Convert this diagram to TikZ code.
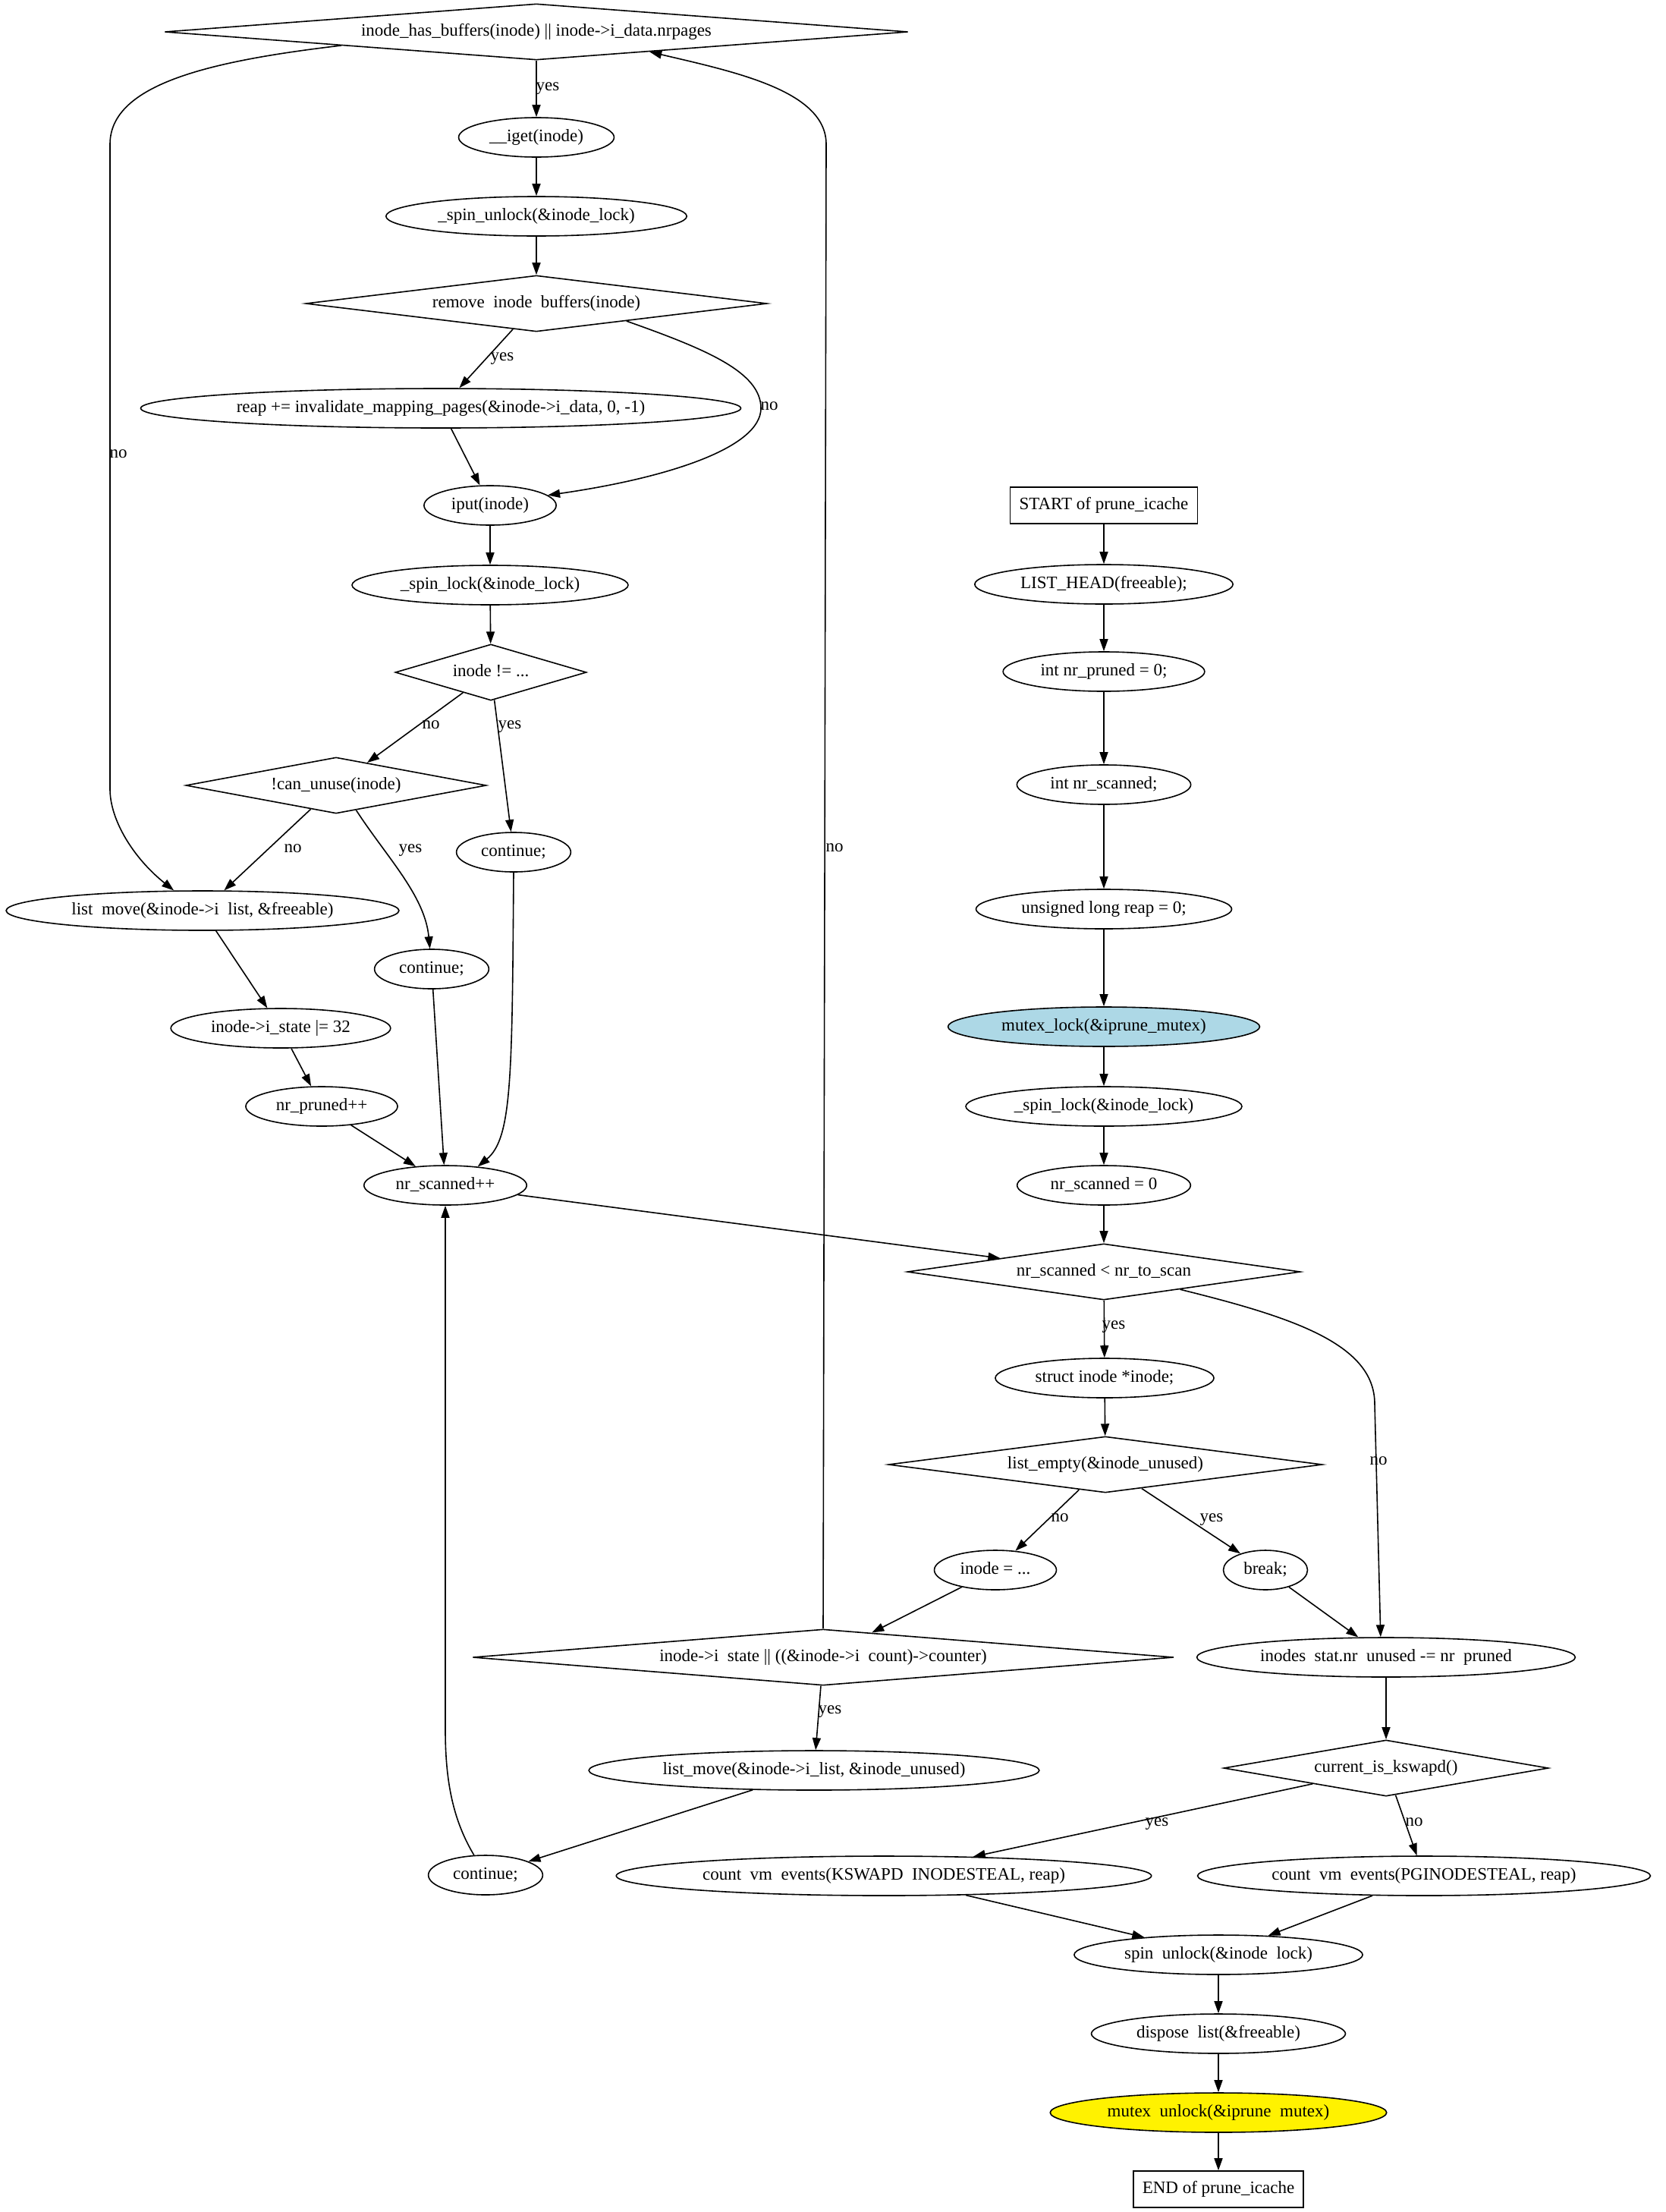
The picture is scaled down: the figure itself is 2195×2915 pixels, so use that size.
\documentclass[tikz,border=0pt]{standalone}
\usepackage{fontspec}
\setmainfont{Liberation Serif}
\usetikzlibrary{shapes.geometric,arrows.meta}
\newcommand{\hidus}{\phantom{\_}}
\definecolor{lightblue}{HTML}{ADD8E6}

\begin{document}
\begin{tikzpicture}[x=1pt, y=-1pt, line width=1.6pt, >={Triangle[length=16pt,width=11pt]},
  every node/.style={font=\fontsize{23}{27}\selectfont, text height=16pt, text depth=5pt},
  proc/.style={ellipse, draw, inner xsep=10.5pt, inner ysep=0pt, minimum height=52pt},
  decision/.style={diamond, draw, inner sep=0pt, minimum height=74pt},
  startend/.style={rectangle, draw, inner xsep=12pt, inner ysep=0pt, minimum height=48pt},
  lbl/.style={inner sep=0pt}]
\useasboundingbox (0,0) rectangle (2195,2915);
\node[startend] (N0) at (1455,666) {START of prune\_icache};
\node[proc] (N1) at (1455,770) {LIST\_HEAD(freeable);};
\node[proc] (N2) at (1455,885) {int nr\_pruned = 0;};
\node[proc] (N3) at (1455,1034) {int nr\_scanned;};
\node[proc] (N4) at (1455,1198) {unsigned long reap = 0;};
\node[proc, fill=lightblue] (N5) at (1455,1353) {mutex\_lock(\&iprune\_mutex)};
\node[proc] (N6) at (1455,1458) {\_spin\_lock(\&inode\_lock)};
\node[proc] (N7) at (1455,1562) {nr\_scanned = 0};
\node[decision, minimum width=518pt, aspect=7.0] (N8) at (1455,1676) {nr\_scanned < nr\_to\_scan};
\node[proc] (N9) at (1456,1816) {struct inode *inode;};
\node[decision, minimum width=572pt, aspect=7.73] (N10) at (1457,1930) {list\_empty(\&inode\_unused)};
\node[proc] (N11) at (1312,2069) {inode = ...};
\node[proc] (N12) at (1668,2069) {break;};
\node[decision, minimum width=924pt, aspect=12.49] (N13) at (1085,2184) {inode->i\hidus state || ((\&inode->i\hidus count)->counter)};
\node[decision, minimum width=980pt, aspect=13.24] (N14) at (707,42) {inode\_has\_buffers(inode) || inode->i\_data.nrpages};
\node[proc] (N15) at (707,181) {\_\_iget(inode)};
\node[proc] (N16) at (707,285) {\_spin\_unlock(\&inode\_lock)};
\node[decision, minimum width=608pt, aspect=8.22] (N17) at (707,400) {remove\hidus inode\hidus buffers(inode)};
\node[proc] (N18) at (581,538) {reap += invalidate\_mapping\_pages(\&inode->i\_data, 0, -1)};
\node[proc] (N19) at (646,666) {iput(inode)};
\node[proc] (N20) at (646,771) {\_spin\_lock(\&inode\_lock)};
\node[decision, minimum width=252pt, aspect=3.41] (N21) at (647,886) {inode != ...};
\node[decision, minimum width=396pt, aspect=5.35] (N22) at (443,1035) {!can\_unuse(inode)};
\node[proc] (N23) at (677,1123) {continue;};
\node[proc] (N24) at (267,1200) {list\hidus move(\&inode->i\hidus list, \&freeable)};
\node[proc] (N25) at (569,1277) {continue;};
\node[proc] (N26) at (370,1355) {inode->i\_state |= 32};
\node[proc] (N27) at (424,1458) {nr\_pruned++};
\node[proc] (N28) at (587,1562) {nr\_scanned++};
\node[proc] (N29) at (1073,2333) {list\_move(\&inode->i\_list, \&inode\_unused)};
\node[proc] (N30) at (640,2471) {continue;};
\node[proc] (N31) at (1827,2184) {inodes\hidus stat.nr\hidus unused -= nr\hidus pruned};
\node[decision, minimum width=428pt, aspect=5.78] (N32) at (1827,2330) {current\_is\_kswapd()};
\node[proc] (N33) at (1165,2472) {count\hidus vm\hidus events(KSWAPD\hidus INODESTEAL, reap)};
\node[proc] (N34) at (1877,2472) {count\hidus vm\hidus events(PGINODESTEAL, reap)};
\node[proc] (N35) at (1606,2576) {spin\hidus unlock(\&inode\hidus lock)};
\node[proc] (N36) at (1606,2680) {dispose\hidus list(\&freeable)};
\node[proc, fill=yellow] (N37) at (1606,2784) {mutex\hidus unlock(\&iprune\hidus mutex)};
\node[startend] (N38) at (1606,2885) {END of prune\_icache};
\node[lbl] (L0) at (722,114) {yes};
\node[lbl] (L1) at (156,598) {no};
\node[lbl] (L2) at (662,470) {yes};
\node[lbl] (L3) at (1014,535) {no};
\node[lbl] (L4) at (568,955) {no};
\node[lbl] (L5) at (672,955) {yes};
\node[lbl] (L6) at (386,1118) {no};
\node[lbl] (L7) at (541,1118) {yes};
\node[lbl] (L8) at (1100,1117) {no};
\node[lbl] (L9) at (1468,1746) {yes};
\node[lbl] (L10) at (1817,1925) {no};
\node[lbl] (L11) at (1397,2000) {no};
\node[lbl] (L12) at (1597,2000) {yes};
\node[lbl] (L13) at (1094,2253) {yes};
\node[lbl] (L14) at (1525,2401) {yes};
\node[lbl] (L15) at (1864,2401) {no};
\draw[->] (N0) -- (N1);
\draw[->] (N1) -- (N2);
\draw[->] (N2) -- (N3);
\draw[->] (N3) -- (N4);
\draw[->] (N4) -- (N5);
\draw[->] (N5) -- (N6);
\draw[->] (N6) -- (N7);
\draw[->] (N7) -- (N8);
\draw[->] (N8) -- (N9);
\draw[->] (N8.-13) .. controls (1700,1735) and (1812,1770) .. (1812,1850) -- (N31.105);
\draw[->] (N9) -- (N10);
\draw[->] (N10) -- (N11);
\draw[->] (N10) -- (N12);
\draw[->] (N11) -- (N13);
\draw[->] (N12) -- (N31);
\draw[->] (N13.north) -- (1089,190) .. controls (1089,120) and (970,95) .. (N14.-10);
\draw[->] (N13) -- (N29);
\draw[->] (N29) -- (N30);
\draw[->] (N30.120) .. controls (598,2400) and (587,2350) .. (587,2280) -- (N28.south);
\draw[->] (N14) -- (N15);
\draw[->] (N14.184) .. controls (280,80) and (145,110) .. (145,190) -- (145,1040) .. controls (145,1080) and (175,1130) .. (N24.145);
\draw[->] (N15) -- (N16);
\draw[->] (N16) -- (N17);
\draw[->] (N17) -- (N18);
\draw[->] (N17.-11) .. controls (930,460) and (1003,490) .. (1003,538) .. controls (1003,590) and (880,630) .. (N19.10);
\draw[->] (N18) -- (N19);
\draw[->] (N19) -- (N20);
\draw[->] (N20) -- (N21);
\draw[->] (N21) -- (N22);
\draw[->] (N21) -- (N23);
\draw[->] (N22) -- (N24);
\draw[->] (N22.-51) .. controls (510,1130) and (560,1180) .. (N25.95);
\draw[->] (N24) -- (N26);
\draw[->] (N26) -- (N27);
\draw[->] (N27) -- (N28);
\draw[->] (N25) -- (N28);
\draw[->] (N23.south) .. controls (675,1420) and (675,1500) .. (N28.30);
\draw[->] (N28) -- (N8);
\draw[->] (N31) -- (N32);
\draw[->] (N32) -- (N33);
\draw[->] (N32) -- (N34);
\draw[->] (N33) -- (N35);
\draw[->] (N34) -- (N35);
\draw[->] (N35) -- (N36);
\draw[->] (N36) -- (N37);
\draw[->] (N37) -- (N38);
\end{tikzpicture}
\end{document}
